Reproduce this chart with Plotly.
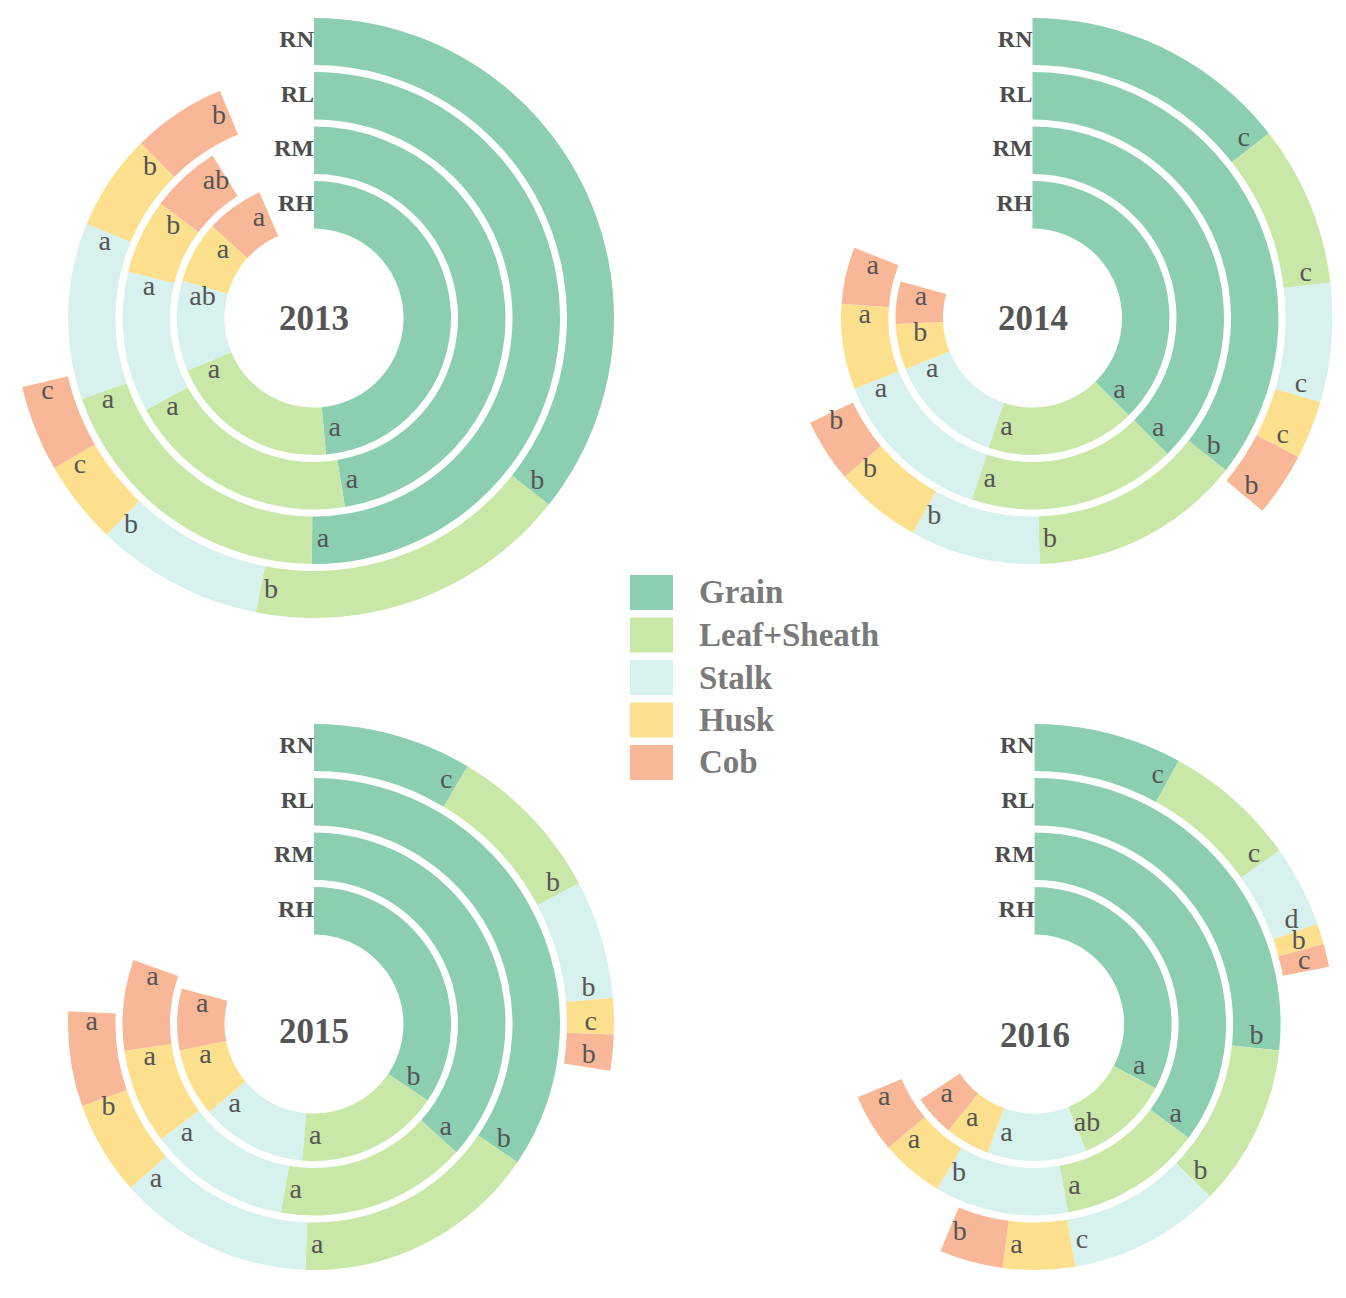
import math
import plotly.graph_objects as go

# ---------------- data (angular share of each organ, degrees of full circle) ----------------
parts = ["Grain", "Leaf+Sheath", "Stalk", "Husk", "Cob"]
rings = ["RH", "RM", "RL", "RN"]          # inner -> outer
years = ["2013", "2014", "2015", "2016"]

v2013_RH = [175.0, 72.5, 38.3, 26.2, 24.5]
v2013_RM = [170.7, 70.6, 42.7, 22.7, 21.3]
v2013_RL = [180.5, 70.3, 41.7, 22.8, 22.2]
v2013_RN = [128.5, 62.7, 32.5, 16.3, 16.7]

v2014_RH = [135.4, 63.4, 49.2, 19.5, 18.0]
v2014_RM = [135.2, 63.3, 49.8, 26.0, 17.2]
v2014_RL = [128.2, 50.1, 30.8, 20.7, 15.0]
v2014_RN = [52.0, 31.2, 23.1, 11.3, 12.4]

v2015_RH = [124.0, 61.0, 45.0, 29.0, 26.0]
v2015_RM = [132.0, 58.0, 43.0, 29.0, 27.5]
v2015_RL = [124.2, 57.8, 46.2, 22.3, 22.5]
v2015_RN = [30.8, 31.2, 23.0, 7.0, 7.0]

v2016_RH = [118.0, 40.0, 42.0, 19.0, 17.5]
v2016_RM = [126.5, 43.5, 40.5, 19.2, 17.8]
v2016_RL = [96.2, 38.3, 36.0, 17.0, 15.0]
v2016_RN = [28.7, 26.0, 15.8, 4.0, 4.5]

# significance letters
s2013_RH = ["a", "a", "ab", "a", "a"]
s2013_RM = ["a", "a", "a", "b", "ab"]
s2013_RL = ["a", "a", "a", "b", "b"]
s2013_RN = ["b", "b", "b", "c", "c"]

s2014_RH = ["a", "a", "a", "b", "a"]
s2014_RM = ["a", "a", "a", "a", "a"]
s2014_RL = ["b", "b", "b", "b", "b"]
s2014_RN = ["c", "c", "c", "c", "b"]

s2015_RH = ["b", "a", "a", "a", "a"]
s2015_RM = ["a", "a", "a", "a", "a"]
s2015_RL = ["b", "a", "a", "b", "a"]
s2015_RN = ["c", "b", "b", "c", "b"]

s2016_RH = ["a", "ab", "a", "a", "a"]
s2016_RM = ["a", "a", "b", "a", "a"]
s2016_RL = ["b", "b", "c", "a", "b"]
s2016_RN = ["c", "c", "d", "b", "c"]

values = {
    "2013": [v2013_RH, v2013_RM, v2013_RL, v2013_RN],
    "2014": [v2014_RH, v2014_RM, v2014_RL, v2014_RN],
    "2015": [v2015_RH, v2015_RM, v2015_RL, v2015_RN],
    "2016": [v2016_RH, v2016_RM, v2016_RL, v2016_RN],
}
letters = {
    "2013": [s2013_RH, s2013_RM, s2013_RL, s2013_RN],
    "2014": [s2014_RH, s2014_RM, s2014_RL, s2014_RN],
    "2015": [s2015_RH, s2015_RM, s2015_RL, s2015_RN],
    "2016": [s2016_RH, s2016_RM, s2016_RL, s2016_RN],
}

# ---------------- style / layout ----------------
COLORS = ["#8ccfb0", "#c9e7a7", "#d6f1ee", "#fde08e", "#f8b898"]
FONT = "Liberation Serif"
W, H = 1346, 1324
R = 300.0
centers = {"2013": (314, 318), "2014": (1032.5, 318), "2015": (314, 1024), "2016": (1034.6, 1024)}
year_dy = {"2013": 0, "2014": 0, "2015": 7, "2016": 11}
ring_base = [89.5, 144.0, 198.5, 253.0]
ring_w = 47.5

fig = go.Figure()
annotations = []
shapes = []

for k, yr in enumerate(years):
    sp = "polar" if k == 0 else f"polar{k+1}"
    vals = values[yr]
    # bars
    for p_i, part in enumerate(parts):
        th, wd, rr, bb = [], [], [], []
        for ri in range(len(rings)):
            start = sum(vals[ri][:p_i])
            w = vals[ri][p_i]
            th.append(start + w / 2.0)
            wd.append(w)
            rr.append(ring_w)
            bb.append(ring_base[ri])
        fig.add_trace(go.Barpolar(
            r=rr, base=bb, theta=th, width=wd, name=part,
            marker=dict(color=COLORS[p_i], line=dict(width=0)),
            subplot=sp, showlegend=False, hoverinfo="skip"))
    # letters
    lt_r, lt_t, lt_s = [], [], []
    for ri in range(len(rings)):
        rmid = ring_base[ri] + ring_w / 2.0
        cum = 0.0
        for p_i in range(len(parts)):
            w = vals[ri][p_i]
            cum += w
            seg_px = math.radians(w) * rmid
            off_px = min(11.0, 0.45 * seg_px)
            lt_r.append(rmid)
            lt_t.append(cum - math.degrees(off_px / rmid))
            lt_s.append(letters[yr][ri][p_i])
    fig.add_trace(go.Scatterpolar(
        r=lt_r, theta=lt_t, text=lt_s, mode="text",
        textfont=dict(family=FONT, size=28, color="#555555"),
        subplot=sp, showlegend=False, hoverinfo="skip"))
    # ring labels
    fig.add_trace(go.Scatterpolar(
        r=[b + ring_w / 2.0 for b in ring_base], theta=[0] * 4, text=rings,
        mode="text", textposition="middle left",
        textfont=dict(family=FONT, size=24, color="#4d4d4d", weight="bold"),
        subplot=sp, showlegend=False, hoverinfo="skip"))

    cx, cy = centers[yr]
    dom = dict(x=[(cx - R) / W, (cx + R) / W],
               y=[max(0.0, (H - cy - R) / H), min(1.0, (H - cy + R) / H)])
    fig.update_layout(**{sp: dict(
        domain=dom,
        bgcolor="rgba(0,0,0,0)",
        barmode="overlay",
        hole=0,
        radialaxis=dict(range=[0, R], visible=False),
        angularaxis=dict(rotation=90, direction="clockwise", visible=False,
                         showgrid=False, showline=False, showticklabels=False, ticks=""),
    )})
    annotations.append(dict(
        x=cx / W, y=(H - cy - year_dy[yr]) / H, xref="paper", yref="paper",
        text=yr, showarrow=False, xanchor="center", yanchor="middle",
        font=dict(family=FONT, size=35, color="#555555", weight="bold")))

# legend (drawn manually)
leg_x0, leg_x1 = 630, 673
leg_rows = [592.5, 635, 677.5, 720, 762.5]
for p_i, part in enumerate(parts):
    yc = leg_rows[p_i]
    shapes.append(dict(type="rect", xref="paper", yref="paper",
                       x0=leg_x0 / W, x1=leg_x1 / W,
                       y0=(H - yc - 17.5) / H, y1=(H - yc + 17.5) / H,
                       fillcolor=COLORS[p_i], line=dict(width=0)))
    annotations.append(dict(x=697 / W, y=(H - yc) / H, xref="paper", yref="paper",
                            text=part, showarrow=False, xanchor="left", yanchor="middle",
                            font=dict(family=FONT, size=33, color="#7a7a7a", weight="bold")))

fig.update_layout(
    width=W, height=H,
    margin=dict(l=0, r=0, t=0, b=0),
    paper_bgcolor="white", plot_bgcolor="white",
    annotations=annotations, shapes=shapes,
    showlegend=False,
)

fig.write_html("out.html", config={"displayModeBar": False},
               post_script="document.body.style.margin='0';document.body.style.overflow='hidden';")
